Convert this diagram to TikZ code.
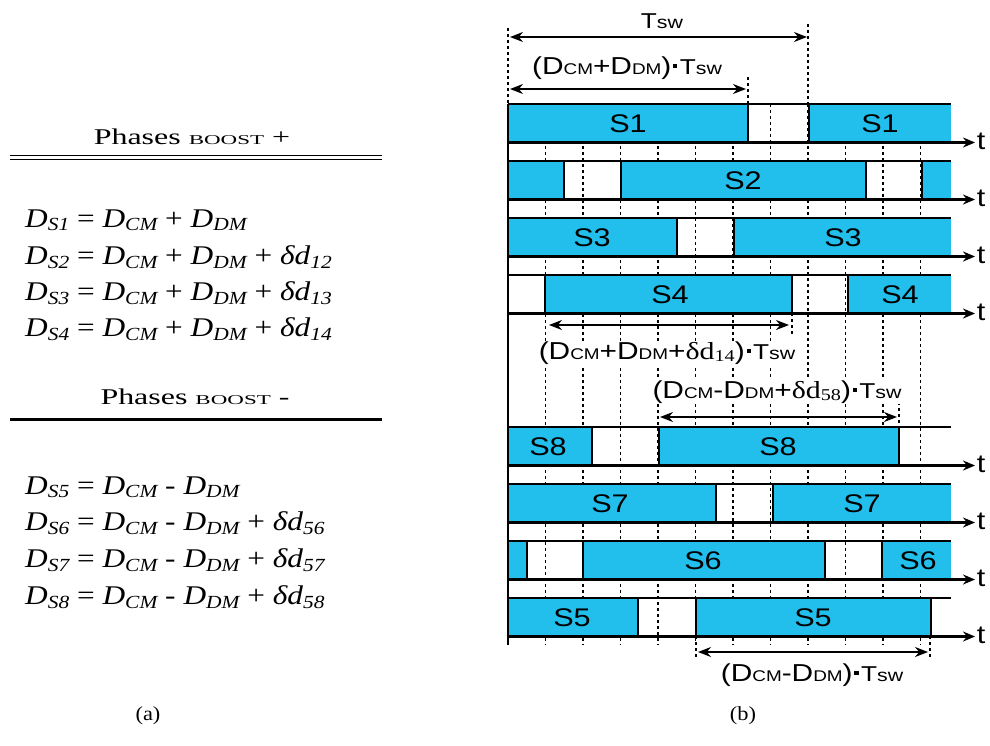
\documentclass[tikz,border=0pt]{standalone}
\usepackage{fontspec}
\setmainfont{Liberation Serif}
\setsansfont{Liberation Sans}
\usetikzlibrary{arrows.meta}
\definecolor{phaseblue}{RGB}{34,190,236}
\newcommand{\wide}[2]{\scalebox{#1}[1]{#2}}
\newcommand{\eqsub}[1]{\raisebox{-3.5pt}{\fontsize{18.5}{18.5}\selectfont\itshape #1}}
\newcommand{\Dsym}[1]{\textit{D}\eqsub{#1}}
\newcommand{\lsub}[1]{{\fontsize{15.5}{15.5}\selectfont #1}}
\newcommand{\tsw}{{\fontsize{21.5}{21.5}\selectfont T}{\fontsize{17.5}{17.5}\selectfont sw}}
\newcommand{\dsm}[1]{{\rmfamily δd\raisebox{-2pt}{\fontsize{16.5}{16.5}\selectfont #1}}}
\newcommand{\mdot}{\hspace{1.5pt}\raisebox{6.5pt}{\rule{3.4pt}{3.4pt}}\hspace{2pt}}
\newcommand{\boost}{\wide{1.2}{\fontsize{13.5}{13.5}\selectfont BOOST}}

\begin{document}
\begin{tikzpicture}[x=1pt,y=-1pt,
	bar/.style={fill=phaseblue},
	wave/.style={line width=2.7pt},
	axis/.style={line width=2.7pt,-{Stealth[length=12pt,width=10pt]}},
	gridline/.style={line width=1.1pt,dash pattern=on 3pt off 3pt},
	dim/.style={line width=1.6pt,{Stealth[length=13pt,width=10pt]}-{Stealth[length=13pt,width=10pt]}},
	lab/.style={font=\sffamily\fontsize{25.5}{25.5}\selectfont},
	dimlab/.style={fill=white,inner sep=1pt,font=\sffamily\fontsize{24.5}{24.5}\selectfont},
	eq/.style={anchor=west,inner sep=0pt,font=\fontsize{27}{27}\selectfont},
	head/.style={inner sep=0pt,font=\fontsize{22.5}{22.5}\selectfont},
	captext/.style={inner sep=0pt,font=\fontsize{20}{20}\selectfont}]

\useasboundingbox (0,0) rectangle (990,745);

% (a)
\node[head] (boostp) at (192,137) {\wide{1.42}{Phases \boost{} +}};
\draw[line width=1.5pt] (10,155.5) -- (382,155.5);
\draw[line width=1.5pt] (10,159.5) -- (382,159.5);
\node[eq] (eq1) at (25,220) {\wide{1.16}{\Dsym{S1} = \Dsym{CM} + \Dsym{DM}}};
\node[eq] (eq2) at (25,257) {\wide{1.16}{\Dsym{S2} = \Dsym{CM} + \Dsym{DM} + \textit{δd}\eqsub{12}}};
\node[eq] (eq3) at (25,293) {\wide{1.16}{\Dsym{S3} = \Dsym{CM} + \Dsym{DM} + \textit{δd}\eqsub{13}}};
\node[eq] (eq4) at (25,329) {\wide{1.16}{\Dsym{S4} = \Dsym{CM} + \Dsym{DM} + \textit{δd}\eqsub{14}}};
\node[head] (boostm) at (195,397) {\wide{1.42}{Phases \boost{} -}};
\draw[line width=3pt] (10,419.5) -- (382,419.5);
\node[eq] (eq5) at (25,487) {\wide{1.16}{\Dsym{S5} = \Dsym{CM} - \Dsym{DM}}};
\node[eq] (eq6) at (25,523) {\wide{1.16}{\Dsym{S6} = \Dsym{CM} - \Dsym{DM} + \textit{δd}\eqsub{56}}};
\node[eq] (eq7) at (25,560) {\wide{1.16}{\Dsym{S7} = \Dsym{CM} - \Dsym{DM} + \textit{δd}\eqsub{57}}};
\node[eq] (eq8) at (25,597) {\wide{1.16}{\Dsym{S8} = \Dsym{CM} - \Dsym{DM} + \textit{δd}\eqsub{58}}};
\node[captext] (capa) at (148,716) {\wide{1.12}{(a)}};

% (b)
\foreach \k in {0,...,10}
	\draw[gridline] ({545.5+37.5*\k},104) -- ({545.5+37.5*\k},645);
\draw[gridline] (508,28) -- (508,104);
\draw[gridline] (808,24) -- (808,104);
\draw[gridline] (748,77) -- (748,104);
\draw[gridline] (792,313) -- (792,336);
\draw[gridline] (899,402) -- (899,427);
\draw[gridline] (696,636) -- (696,660);
\draw[gridline] (930,636) -- (930,660);

\foreach \t/\n/\on/\cut/\lab in {
	104/1/{508/748,809/951}/{748,809}/{628,880},
	161/2/{508/564,621/866,922/951}/{564,621,866,922}/{743},
	218/3/{508/677,734/951}/{677,734}/{592,843},
	275/4/{545/792,848/951}/{545,792,848}/{670,900},
	427/8/{508/592,659/899}/{592,659,899}/{548,778},
	484/7/{508/716,773/951}/{716,773}/{610,862},
	541/6/{508/527,583/825,882/951}/{527,583,825,882}/{703,918},
	598/5/{508/638,696/931}/{638,696,931}/{572,813}}
{
	\foreach \a/\b in \on
		\fill[bar] (\a,\t) rectangle (\b,{\t+38.5});
	\draw[wave] (508,\t) -- (951,\t);
	\draw[axis] (508,{\t+38.5}) -- (975,{\t+38.5});
	\foreach \c in \cut
		\draw[wave] (\c,\t) -- (\c,{\t+38.5});
	\foreach \x in \lab
		\node[lab] (s\n-\x) at (\x,{\t+19.5}) {\wide{1.2}{S\n}};
	\node[lab] (t\n) at (981,{\t+37}) {\wide{1.2}{t}};
}
\draw[line width=1.5pt] (508,104) -- (508,645);

\coordinate (tsw-l) at (510,37);
\coordinate (tsw-r) at (807,37);
\draw[dim] (tsw-l) -- (tsw-r);
\node[dimlab] (tsw) at (662,21) {\wide{1.22}{\tsw}};

\coordinate (d1-l) at (510,89);
\coordinate (d1-r) at (746,89);
\draw[dim] (d1-l) -- (d1-r);
\node[dimlab] (d1) at (627,68) {\wide{1.22}{(D\lsub{CM}+D\lsub{DM})\mdot\tsw}};

\coordinate (d14-l) at (549,325);
\coordinate (d14-r) at (789,325);
\draw[dim] (d14-l) -- (d14-r);
\node[dimlab] (d14) at (667,353) {\wide{1.22}{(D\lsub{CM}+D\lsub{DM}+\dsm{14})\mdot\tsw}};

\coordinate (d58-l) at (660,417);
\coordinate (d58-r) at (897,417);
\draw[dim] (d58-l) -- (d58-r);
\node[dimlab] (d58) at (777,392) {\wide{1.22}{(D\lsub{CM}-D\lsub{DM}+\dsm{58})\mdot\tsw}};

\coordinate (d5-l) at (698,652);
\coordinate (d5-r) at (928,652);
\draw[dim] (d5-l) -- (d5-r);
\node[dimlab] (d5) at (812,675) {\wide{1.22}{(D\lsub{CM}-D\lsub{DM})\mdot\tsw}};

\node[captext] (capb) at (743,716) {\wide{1.12}{(b)}};
\end{tikzpicture}
\end{document}
